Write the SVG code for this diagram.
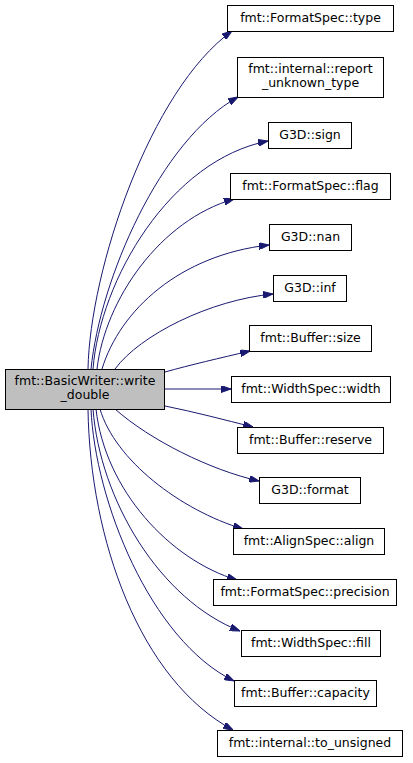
<svg xmlns="http://www.w3.org/2000/svg" width="413" height="763" viewBox="0 0 413 763">
<style>
.n rect{fill:#ffffff;stroke:#000000;stroke-width:1}
#main rect{fill:#bfbfbf}
text{font-family:"DejaVu Sans","Liberation Sans",sans-serif;font-size:12.5px;text-anchor:middle;fill:#000}
.e path{fill:none;stroke:#191970;stroke-width:1;marker-end:url(#ah)}
</style>
<defs>
<marker id="ah" viewBox="0 0 10 7" refX="10" refY="3.5" markerWidth="10" markerHeight="7" markerUnits="userSpaceOnUse" orient="auto">
<path d="M0,0 L10,3.5 L0,7 z" fill="#191970" stroke="#191970"/>
</marker>
</defs>
<rect width="413" height="763" fill="#ffffff"/>
<g id="edges" class="e">
<path d="M88,369 C90,270 150,90 232,31"/>
<path d="M91,369 C100,280 160,140 238,97"/>
<path d="M93,369 C100,280 170,160 268,141"/>
<path d="M97,369 C105,300 160,220 234,199"/>
<path d="M102,369 C120,310 180,255 269,245"/>
<path d="M115,369 C140,335 210,300 273,294"/>
<path d="M165,372 C190,365 220,358 250,351"/>
<path d="M165,389 L231,389"/>
<path d="M165,406 C195,412 225,420 253,427"/>
<path d="M115,409 C150,440 210,470 259,481"/>
<path d="M100,409 C115,460 180,510 243,529"/>
<path d="M96,409 C105,490 170,560 237,580"/>
<path d="M93,409 C100,500 160,600 240,631"/>
<path d="M91,409 C95,500 150,640 234,681"/>
<path d="M88,409 C90,540 140,680 233,730"/>
</g>
<g id="main" class="n"><rect x="5.5" y="369.5" width="159" height="40"/><text x="85" y="385">fmt::BasicWriter::write</text><text x="85" y="399">_double</text></g>
<g id="n_type" class="n"><rect x="227.5" y="5.5" width="166" height="26"/><text x="310.5" y="22">fmt::FormatSpec::type</text></g>
<g id="n_report" class="n"><rect x="237.5" y="57.5" width="146" height="40"/><text x="310.5" y="73">fmt::internal::report</text><text x="310.5" y="87">_unknown_type</text></g>
<g id="n_sign" class="n"><rect x="268.5" y="122.5" width="83" height="26"/><text x="310" y="139">G3D::sign</text></g>
<g id="n_flag" class="n"><rect x="230.5" y="173.5" width="160" height="26"/><text x="310.5" y="190">fmt::FormatSpec::flag</text></g>
<g id="n_nan" class="n"><rect x="269.5" y="224.5" width="82" height="26"/><text x="310.5" y="241">G3D::nan</text></g>
<g id="n_inf" class="n"><rect x="273.5" y="275.5" width="73" height="26"/><text x="310" y="292">G3D::inf</text></g>
<g id="n_size" class="n"><rect x="249.5" y="325.5" width="122" height="26"/><text x="310.5" y="342">fmt::Buffer::size</text></g>
<g id="n_width" class="n"><rect x="231.5" y="376.5" width="159" height="26"/><text x="311" y="393">fmt::WidthSpec::width</text></g>
<g id="n_reserve" class="n"><rect x="237.5" y="427.5" width="146" height="26"/><text x="310.5" y="444">fmt::Buffer::reserve</text></g>
<g id="n_format" class="n"><rect x="259.5" y="477.5" width="101" height="26"/><text x="310" y="494">G3D::format</text></g>
<g id="n_align" class="n"><rect x="233.5" y="528.5" width="151" height="26"/><text x="309" y="545">fmt::AlignSpec::align</text></g>
<g id="n_precision" class="n"><rect x="213.5" y="579.5" width="183" height="26"/><text x="305" y="596">fmt::FormatSpec::precision</text></g>
<g id="n_fill" class="n"><rect x="241.5" y="630.5" width="139" height="26"/><text x="311" y="647">fmt::WidthSpec::fill</text></g>
<g id="n_capacity" class="n"><rect x="234.5" y="680.5" width="142" height="26"/><text x="305.5" y="697">fmt::Buffer::capacity</text></g>
<g id="n_to_unsigned" class="n"><rect x="217.5" y="730.5" width="185" height="26"/><text x="310" y="747">fmt::internal::to_unsigned</text></g>
</svg>
